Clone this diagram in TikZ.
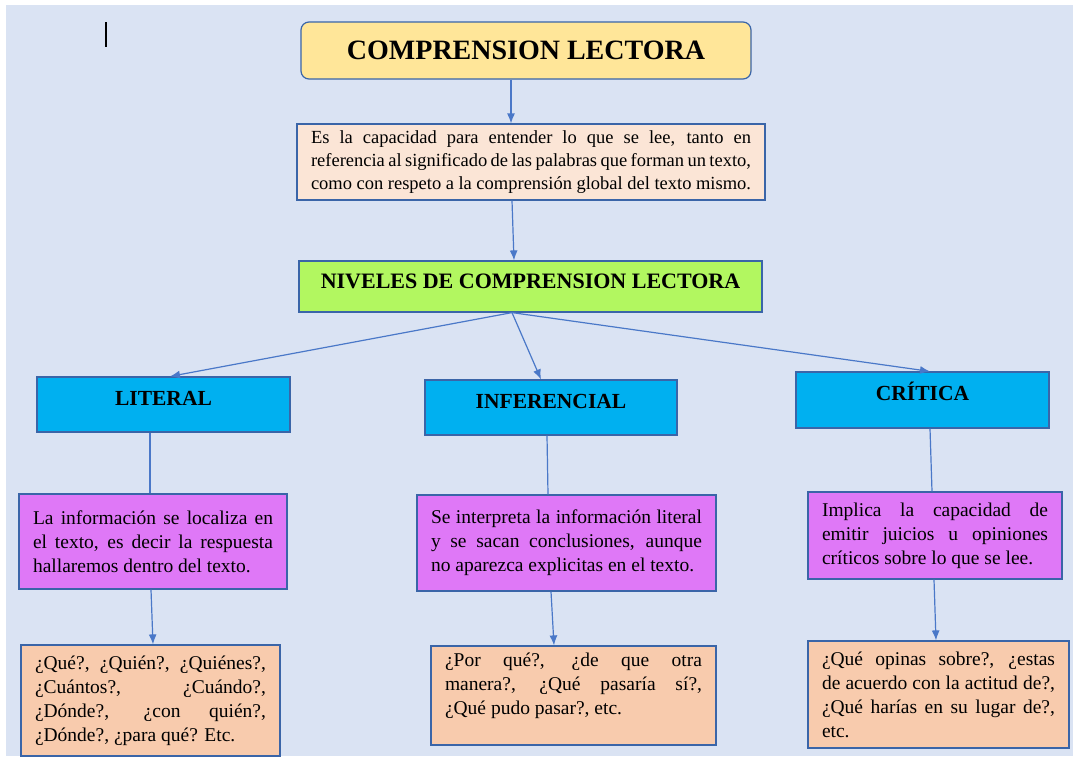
\documentclass[tikz,border=0pt]{standalone}
\usepackage{fontspec}
\setmainfont{Liberation Serif}
\usepackage{tikz}
\usetikzlibrary{shapes, arrows.meta, positioning, calc}
\definecolor{fondo}{HTML}{DAE3F3}
\definecolor{borde}{HTML}{3A65A8}
\definecolor{flecha}{HTML}{4A78C8}
\definecolor{amarillo}{HTML}{FFE699}
\definecolor{rosado}{HTML}{FBE5D6}
\definecolor{verde}{HTML}{B2F760}
\definecolor{celeste}{HTML}{00B0F0}
\definecolor{violeta}{HTML}{DF78F7}
\definecolor{salmon}{HTML}{F8CBAD}
\tikzstyle{block} = [draw=borde, line width=1.2pt, rectangle, inner ysep=0pt]
\tikzstyle{nivel} = [block, fill=celeste, minimum width=253pt, minimum height=55pt, text height=15pt, text depth=14pt, font=\fontsize{21.5}{25}\selectfont\bfseries]
\tikzstyle{info} = [block, fill=violeta, align=justify, inner xsep=14pt, font=\txt]
\tikzstyle{preg} = [block, fill=salmon, align=justify, inner xsep=14pt, font=\txt]
\tikzstyle{line} = [draw=flecha, line width=1.2pt]
\tikzstyle{arr} = [line, -{Latex[length=10pt,width=8pt]}]
\newcommand{\txt}{\fontsize{19.5}{24}\selectfont}

\begin{document}
\begin{tikzpicture}[x=1pt,y=-1pt]
  \useasboundingbox (0,0) rectangle (1073,756);
  \fill [fondo] (6,5) rectangle (1073,756);
  \draw [line width=1.5pt] (106,22) -- (106,47);
  \node [block, fill=amarillo, rounded corners=8pt, minimum width=450pt, minimum height=57pt,
    font=\fontsize{28}{32}\selectfont\bfseries] (title) at (526,50.5) {COMPRENSION LECTORA};
  \node [block, fill=rosado, align=justify, inner xsep=14pt, text width=440pt, minimum height=76pt,
    font=\fontsize{18.5}{23}\selectfont] (def) at (531,162)
    {Es la capacidad para entender lo que se lee, tanto en\linebreak referencia al significado de las palabras que forman un texto,\linebreak como con respeto a la comprensión global del texto mismo.};
  \node [block, fill=verde, minimum width=463pt, minimum height=51pt, text height=15.5pt, text depth=11pt,
    font=\fontsize{22}{26}\selectfont\bfseries] (niv) at (530.5,286.5) {NIVELES DE COMPRENSION LECTORA};
  \node [nivel] (lit) at (163.5,404.5) {LITERAL};
  \node [nivel, minimum width=252pt] (inf) at (551,407.5) {INFERENCIAL};
  \node [nivel, minimum height=56pt] (crit) at (922.5,400) {CRÍTICA};
  \node [info, text width=240pt, minimum height=95pt] (ilit) at (153,541.5)
    {La información se localiza en\linebreak el texto, es decir la respuesta\linebreak hallaremos dentro del texto.};
  \node [info, text width=271pt, minimum height=96pt] (iinf) at (566.5,543)
    {Se interpreta la información literal\linebreak y se sacan conclusiones, aunque\linebreak no aparezca explicitas en el texto.};
  \node [info, text width=226pt, minimum height=87pt] (icrit) at (935,535.5)
    {Implica la capacidad de\linebreak emitir juicios u opiniones\linebreak críticos sobre lo que se lee.};
  \node [preg, text width=231pt, minimum height=111pt] (plit) at (150.5,700.5)
    {¿Qué?, ¿Quién?, ¿Quiénes?,\linebreak ¿Cuántos?, ¿Cuándo?,\linebreak ¿Dónde?, ¿con quién?,\linebreak ¿Dónde?, ¿para qué? Etc.};
  \node [preg, text width=257pt, minimum height=99pt] (pinf) at (573.5,695.5)
    {¿Por qué?, ¿de que otra\linebreak manera?, ¿Qué pasaría sí?,\linebreak ¿Qué pudo pasar?, etc.\\ \mbox{}};
  \node [preg, text width=233pt, minimum height=107pt] (pcrit) at (938.5,694.5)
    {¿Qué opinas sobre?, ¿estas\linebreak de acuerdo con la actitud de?,\linebreak ¿Qué harías en su lugar de?,\linebreak etc.};
  % flechas
  \draw [arr] ($(title.south)+(-15,0)$) -- ($(def.north)+(-20,0)$);
  \draw [arr] ($(def.south)+(-19,0)$) -- ($(niv.north)+(-16.5,0)$);
  \draw [arr] ($(niv.south)+(-18.5,0)$) -- ($(lit.north)+(6.5,0)$);
  \draw [arr] ($(niv.south)+(-18.5,0)$) -- ($(inf.north)+(-10,0)$);
  \draw [arr] ($(niv.south)+(-18.5,0)$) -- ($(crit.north)+(7.5,0)$);
  \draw [line] ($(lit.south)+(-13.5,0)$) -- ($(ilit.north)+(-3,0)$);
  \draw [line] ($(inf.south)+(-4,0)$) -- ($(iinf.north)+(-18.5,0)$);
  \draw [line] ($(crit.south)+(7.5,0)$) -- ($(icrit.north)+(-3,0)$);
  \draw [arr] ($(ilit.south)+(-2,0)$) -- ($(plit.north)+(2.5,0)$);
  \draw [arr] ($(iinf.south)+(-15.5,0)$) -- ($(pinf.north)+(-19.5,0)$);
  \draw [arr] ($(icrit.south)+(-1,0)$) -- ($(pcrit.north)+(-2.5,0)$);
\end{tikzpicture}
\end{document}
